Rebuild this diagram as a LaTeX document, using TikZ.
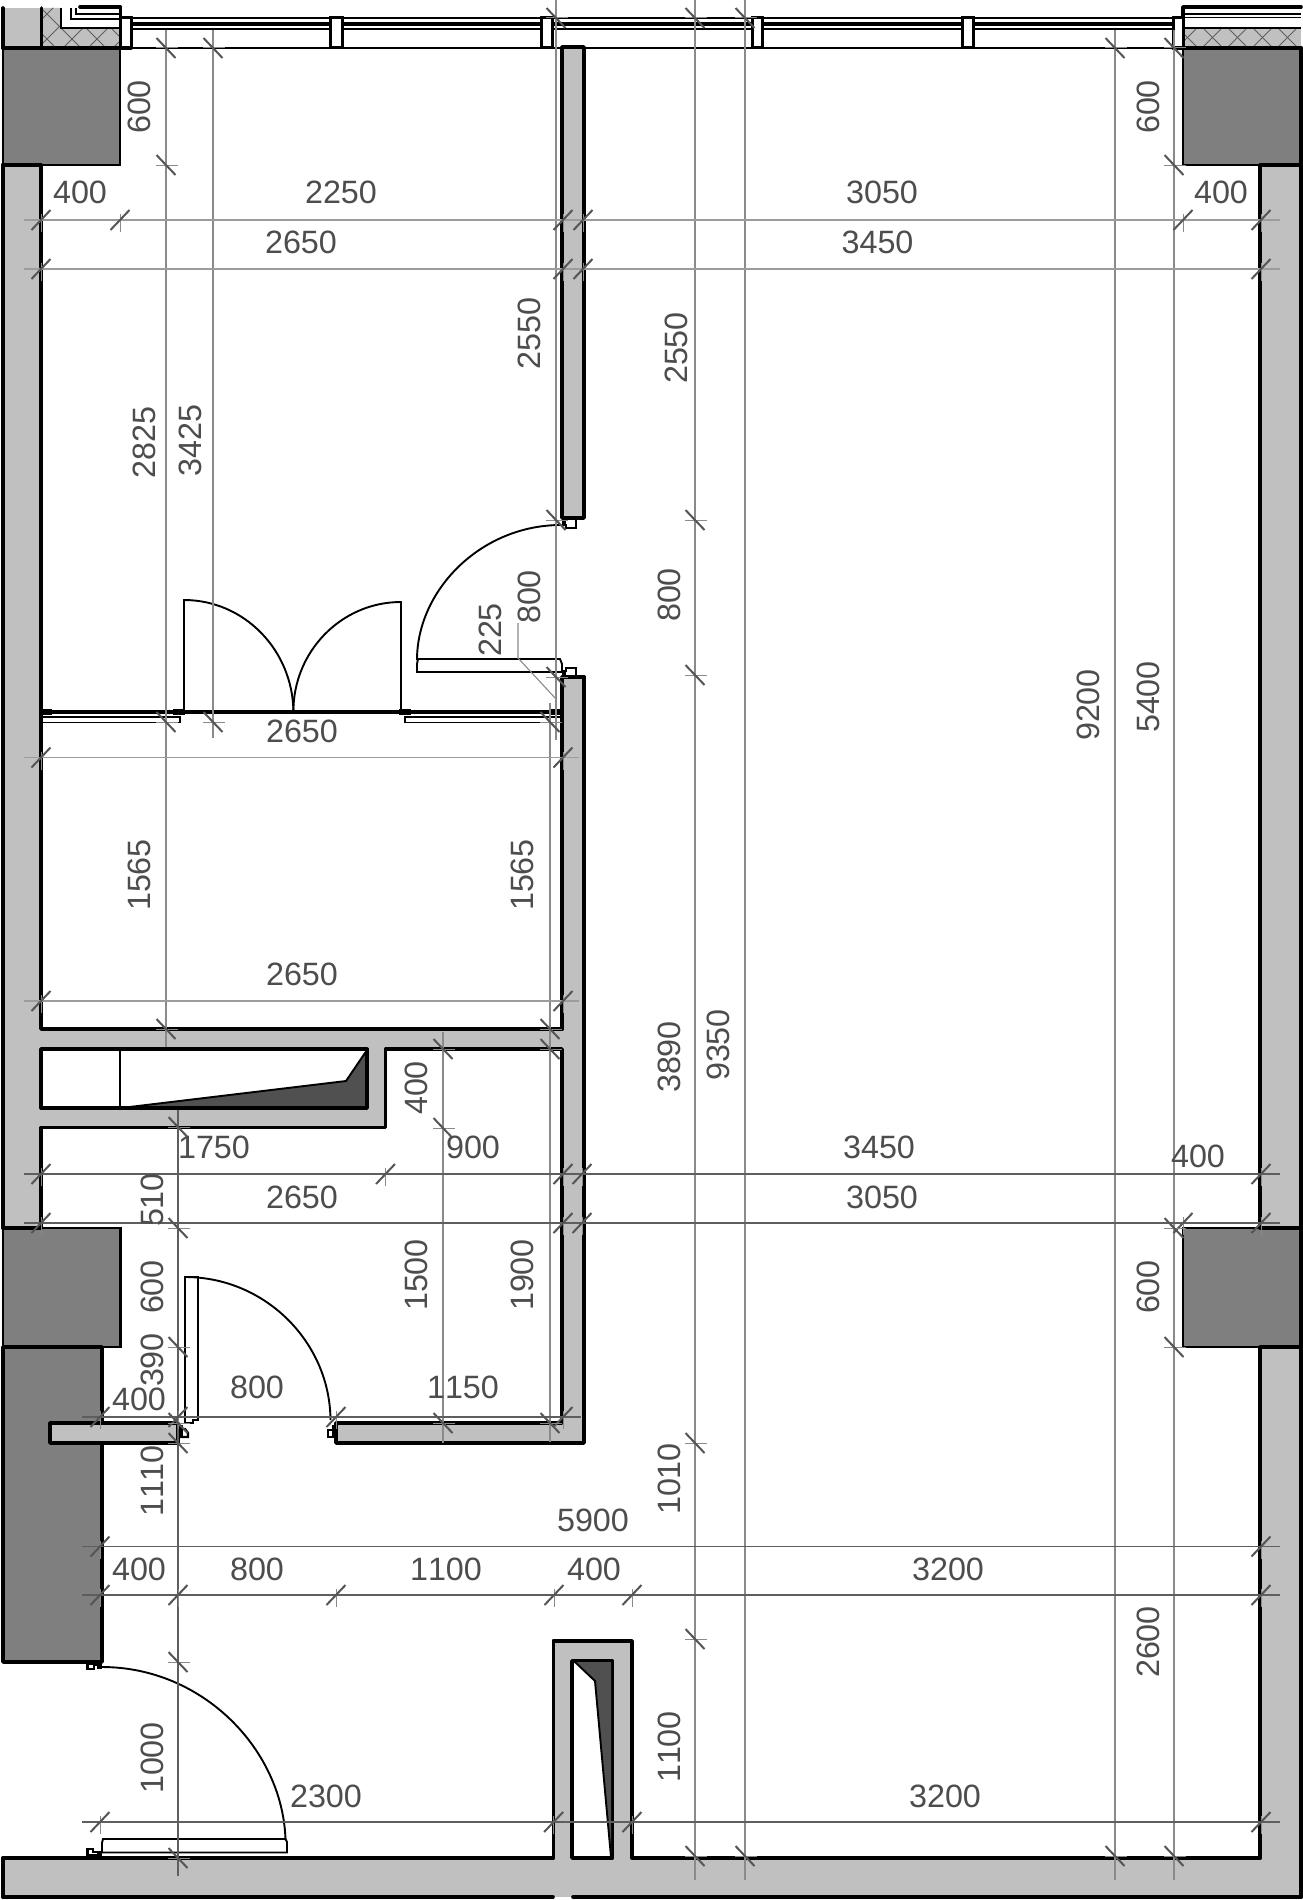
\documentclass[tikz,border=0pt]{standalone}
\usepackage{fontspec}
\setmainfont[Kerning=Off]{Liberation Sans}
\definecolor{wallgrey}{HTML}{C0C0C0}
\definecolor{coregrey}{HTML}{7F7F7F}
\definecolor{shaftdark}{HTML}{505050}
\definecolor{dimtext}{HTML}{4D4D4D}
\definecolor{dimthin}{HTML}{8A8A8A}
\definecolor{dimwide}{HTML}{9C9C9C}
\definecolor{dimdark}{HTML}{5E5E5E}
\definecolor{slashgrey}{HTML}{555555}
\newcommand{\hdimtick}[2]{%
  \draw[extstub] (#1,{#2-6})--(#1,{#2+12});
  \draw[slash] ({#1-9.5},{#2+10})--({#1+9.5},{#2-10});}
\newcommand{\vdimtick}[2]{%
  \draw[extstub] ({#1-10},#2)--({#1+12},#2);
  \draw[slash] ({#1-9.5},{#2-10})--({#1+9.5},{#2+10});}
\tikzset{
  wall/.style={fill=wallgrey,draw=none},
  core/.style={fill=coregrey,draw=black,line width=2.2pt},
  heavy/.style={draw=black,line width=3.6pt,line cap=round,line join=round},
  medium/.style={draw=black,line width=2.4pt,line join=miter},
  light/.style={draw=black,line width=1.9pt,line join=miter},
  swing/.style={draw=black,line width=1.9pt},
  dimv/.style={draw=dimthin,line width=1.1pt},
  dimh/.style={draw=dimwide,line width=1.7pt},
  dimk/.style={draw=dimdark,line width=1.1pt},
  slash/.style={draw=slashgrey,line width=2pt},
  extstub/.style={draw=dimthin,line width=1pt},
  lab/.style={inner sep=0pt,text=dimtext,font=\fontsize{32.3}{36}\selectfont},
  labv/.style={lab,rotate=90}
}
\begin{document}
\begin{tikzpicture}[x=1pt,y=-1pt]
\useasboundingbox (0,0) rectangle (1303,1900);
\fill[white] (0,0) rectangle (1303,1900);

% --- wall fills
\fill[wall] (3,8) rectangle (41,48);
\fill[wall] (3,165) rectangle (41,1228);
\fill[wall] (1260,165) rectangle (1301,1897);
\fill[wall] (3,1858) rectangle (1301,1897);
\fill[wall] (41,1029) rectangle (584,1049);
\fill[wall] (41,1108) rectangle (385.5,1127.5);
\fill[wall] (367,1049) rectangle (385.5,1127.5);
\fill[wall] (562,47) rectangle (584,518);
\fill[wall] (562,677) rectangle (584,1443);
\fill[wall] (336,1423) rectangle (584,1443);

% --- hatched blocks
\fill[wall] (41,8)--(61,8)--(61,28)--(120,28)--(120,48)--(41,48)--cycle;
\fill[wall] (1183,28) rectangle (1301,48);
\begin{scope}
  \clip (41,8)--(61,8)--(61,28)--(120,28)--(120,47)--(41,47)--cycle;
  \foreach \k in {-2,...,6}{
    \draw[dimdark,line width=1pt] ({33+25*\k},0)--({33+25*\k+50},50);
    \draw[dimdark,line width=1pt] ({61+25*\k},50)--({61+25*\k+50},0);}
\end{scope}
\begin{scope}
  \clip (1183,28) rectangle (1301,47);
  \foreach \k in {-1,...,6}{
    \draw[dimdark,line width=1pt] ({1175+25*\k},0)--({1175+25*\k+50},50);
    \draw[dimdark,line width=1pt] ({1175+25*\k},50)--({1175+25*\k+50},0);}
\end{scope}
\draw[light] (61,8)--(61,28)--(120,28);
\draw[light] (71,8)--(71,19)--(120,19);
\draw[light] (76,8)--(76,14)--(120,14);
\draw[heavy] (80,7)--(120.5,7)--(120.5,48);
\draw[heavy] (3,8)--(3,48);
\draw[heavy] (41.5,8)--(41.5,48);
\draw[heavy] (1183,48)--(1183,7)--(1301,7);
\draw[light] (1183,14)--(1301,14);
\draw[light] (1183,17.5)--(1301,17.5);
\draw[light] (1183,28)--(1301,28);

% --- window wall
\draw[medium] (131,18)--(1173,18);
\draw[light]  (131,23)--(1173,23);
\draw[light]  (131,25)--(1173,25);
\draw[medium] (131,29)--(1173,29);
\draw[medium] (105,48)--(1183,48);
\foreach \a/\b in {120.5/131,330/342,541/552,752/762,962/973,1173/1183}{
  \draw[line width=3pt,fill=white] (\a,18) rectangle (\b,48);}

% --- outer and inner wall lines
\draw[heavy] (3,165)--(41,165)--(41,1029)--(562,1029);
\draw[heavy] (3,165)--(3,1228);
\draw[heavy] (1301,165)--(1260,165)--(1260,1228)--(1301,1228);
\draw[heavy] (1301,1347)--(1260,1347)--(1260,1858);
\draw[heavy] (1301,165)--(1301,1897);
\draw[heavy] (562,518)--(562,47)--(584,47)--(584,518)--cycle;
\draw[heavy] (584,677)--(584,1443)--(336,1443)--(336,1423)--(562,1423)--(562,1049)--(385.5,1049)--(385.5,1127.5)--(41,1127.5)--(41,1228);
\draw[heavy] (562,1029)--(562,677)--(584,677);
\draw[heavy] (3,1897)--(553,1897);
\draw[heavy] (573,1897)--(1301,1897);
\draw[heavy] (3,1858)--(3,1897);
\draw[heavy] (3,1858)--(553.6,1858)--(553.6,1641)--(632,1641)--(632,1858)--(1260,1858);

% --- concrete cores
\draw[core] (3,48) rectangle (120,165);
\draw[core] (1183,48) rectangle (1301,165);
\draw[core] (3,1228) rectangle (120.5,1347);
\draw[core] (1183,1228) rectangle (1301,1347);
\draw[heavy,fill=coregrey] (3,1347) rectangle (102,1662);
\draw[heavy] (3,48)--(131,48);
\draw[heavy] (1173,48)--(1301,48);
\draw[heavy] (3,165)--(41,165);
\draw[heavy] (1260,165)--(1301,165);
\draw[heavy] (3,1228)--(41,1228);
\draw[heavy] (1260,1228)--(1301,1228);
\draw[heavy] (1260,1347)--(1301,1347);
\draw[heavy] (1301,48)--(1301,165);
\draw[heavy] (1301,1228)--(1301,1347);

% --- upper shaft
\draw[heavy,fill=white] (41,1049) rectangle (367,1108);
\fill[shaftdark] (121,1108)--(346,1081)--(367,1050)--(367,1108)--cycle;
\draw[heavy] (367,1049)--(367,1108)--(41,1108);
\draw[medium] (120,1049)--(120,1108);
\draw[light] (121,1108)--(346,1081)--(367,1050);

% --- lower shaft
\fill[wall] (555,1642) rectangle (631,1858);
\draw[heavy] (553.6,1858)--(553.6,1641)--(632,1641)--(632,1858);
\draw[heavy,fill=white] (572,1858)--(572,1661)--(612.5,1661)--(612.5,1858)--cycle;
\fill[shaftdark] (575,1662)--(595,1681)--(611,1857)--(611,1662)--cycle;
\draw[light] (575,1662)--(595,1681)--(611,1857);

% --- stub wall across the tall core
\draw[heavy,fill=wallgrey] (50,1423) rectangle (178,1443);

% --- office glazing and double door
\draw[line width=3.4pt] (41,712)--(179,712);
\draw[line width=3.4pt] (184,712)--(401,712);
\draw[line width=3.4pt] (405,712)--(562,712);
\fill (41,709) rectangle (52,715);
\fill (173,709) rectangle (185,715);
\fill (399,709) rectangle (411,715);
\fill (550,709) rectangle (562,715);
\draw[light] (41,717)--(180,717)--(180,722.5)--(41,722.5);
\draw[light] (562,717)--(405,717)--(405,722.5)--(562,722.5);
\draw[swing] (184,712)--(184,600) .. controls (244,600) and (293,650) .. (293.4,712);
\draw[swing] (401,712)--(401,602) .. controls (341,602) and (293,652) .. (293.4,712);

% --- door in the upper partition
\draw[light] (417,672)--(417,664)--(418,659)--(560,659)--(562,664)--(562,672)--cycle;
\draw[swing] (417,660) .. controls (417,590) and (481,525) .. (561,525);
\fill (562,518) rectangle (566,526);
\draw[medium] (562,525)--(566,525)--(566,528)--(576,528)--(576,519);
\fill (562,671) rectangle (566,677);
\draw[medium] (562,671)--(566,671)--(566,668)--(576,668)--(576,676);

% --- door at the service room
\draw[light] (185,1423)--(185,1277)--(198,1277)--(198,1420)--(193,1420)--(193,1423)--cycle;
\draw[swing] (185,1277) .. controls (265,1277) and (330,1342) .. (330.5,1420);
\fill (179,1425) rectangle (183,1436);
\draw[medium] (180,1429)--(185,1429)--(188,1433)--(188,1437)--(180,1437);
\fill (332,1425) rectangle (336,1437);
\draw[medium] (336,1437)--(328,1437)--(328,1430)--(333,1430)--(333,1425);

% --- entrance door
\draw[light] (102,1852.5)--(287,1852.5)--(287,1842)--(285.5,1839)--(103,1839)--(102,1843)--cycle;
\draw[swing] (102,1667) .. controls (203,1667) and (283,1750) .. (285.5,1840);
\fill (97,1662) rectangle (102,1669);
\draw[medium] (97,1665)--(94,1665)--(94,1669)--(87.5,1669)--(87.5,1664)--(93,1664);
\fill (97,1851) rectangle (102,1858);
\draw[medium] (97,1855)--(87.5,1855)--(87.5,1849)--(93,1849)--(93,1852)--(97,1852);

% --- vertical dimension lines
\draw[dimv] (166,30)--(166,1047);
\draw[dimv] (213,30)--(213,738);
\draw[dimv] (556,0)--(556,740);
\draw[dimv] (550,703)--(550,1442);
\draw[dimv] (443,1032)--(443,1443);
\draw[dimk] (178,1110)--(178,1876);
\draw[dimv] (695,0)--(695,1880);
\draw[dimv] (745,0)--(745,1880);
\draw[dimv] (1115,30)--(1115,1880);
\draw[dimv] (1174,30)--(1174,1880);
\draw[dimv] (518,623)--(518,658)--(556,699);

% --- horizontal dimension lines
\draw[dimh] (24,220)--(1280,220);
\draw[dimh] (24,269)--(1280,269);
\draw[dimh] (24,757.5)--(579,757.5);
\draw[dimh] (24,1001)--(579,1001);
\draw[dimk] (24,1174)--(1280,1174);
\draw[dimk] (24,1223)--(1280,1223);
\draw[dimk] (82,1417)--(581,1417);
\draw[dimk] (82,1546.5)--(1280,1546.5);
\draw[dimk] (82,1595)--(1280,1595);
\draw[dimk] (82,1822)--(1280,1822);

% --- ticks on horizontal dimensions
\foreach \px in {41,120,563,583,1183,1261}{\hdimtick{\px}{220}}
\foreach \px in {41,563,583,1261}{\hdimtick{\px}{269}}
\foreach \px in {41,563}{\hdimtick{\px}{757.5}}
\foreach \px in {41,563}{\hdimtick{\px}{1001}}
\foreach \px in {41,385.5,563,582,1261}{\hdimtick{\px}{1174}}
\foreach \px in {41,563,582,1183,1261}{\hdimtick{\px}{1223}}
\foreach \px in {100,178,336,563}{\hdimtick{\px}{1417}}
\foreach \px in {100,1261}{\hdimtick{\px}{1546.5}}
\foreach \px in {100,178,336,554,632,1261}{\hdimtick{\px}{1595}}
\foreach \px in {100,553.6,632,1261}{\hdimtick{\px}{1822}}

% --- ticks on vertical dimensions
\foreach \py in {48,165,722,1029}{\vdimtick{166}{\py}}
\foreach \py in {48,722}{\vdimtick{213}{\py}}
\foreach \py in {18,520,677}{\vdimtick{556}{\py}}
\foreach \py in {722,1029,1049,1423}{\vdimtick{550}{\py}}
\foreach \py in {1049,1128,1423}{\vdimtick{443}{\py}}
\foreach \py in {1127,1228,1347,1423,1443,1662,1858}{\vdimtick{178}{\py}}
\foreach \py in {18,520,675,1443,1639,1856}{\vdimtick{695}{\py}}
\foreach \py in {18,1856}{\vdimtick{745}{\py}}
\foreach \py in {48,1856}{\vdimtick{1115}{\py}}
\foreach \py in {48,165,1228,1347,1856}{\vdimtick{1174}{\py}}

% --- horizontal labels
\node[lab] (l01) at (80,192.5) {400};
\node[lab] (l02) at (341,192.5) {2250};
\node[lab] (l03) at (882,192.5) {3050};
\node[lab] (l04) at (1221,192.5) {400};
\node[lab] (l05) at (301,242) {2650};
\node[lab] (l06) at (877.5,242) {3450};
\node[lab] (l07) at (302,731.5) {2650};
\node[lab] (l08) at (302,974) {2650};
\node[lab] (l09) at (214,1147) {1750};
\node[lab] (l10) at (473,1147) {900};
\node[lab] (l11) at (879,1147) {3450};
\node[lab] (l12) at (1198,1156) {400};
\node[lab] (l13) at (302,1197) {2650};
\node[lab] (l14) at (882,1197) {3050};
\node[lab] (l15) at (139,1399) {400};
\node[lab] (l16) at (257,1387) {800};
\node[lab] (l17) at (463,1387) {1150};
\node[lab] (l18) at (593,1520) {5900};
\node[lab] (l19) at (139,1569) {400};
\node[lab] (l20) at (257,1569) {800};
\node[lab] (l21) at (446,1569) {1100};
\node[lab] (l22) at (594,1569) {400};
\node[lab] (l23) at (948,1569) {3200};
\node[lab] (l24) at (326,1796) {2300};
\node[lab] (l25) at (945,1796) {3200};

% --- vertical labels
\node[labv] (v01) at (139.5,107) {600};
\node[labv] (v02) at (1148.5,107) {600};
\node[labv] (v03) at (144.5,442.5) {2825};
\node[labv] (v04) at (190.5,440.5) {3425};
\node[labv] (v05) at (529,333.5) {2550};
\node[labv] (v06) at (676.5,348) {2550};
\node[labv] (v07) at (529.5,597) {800};
\node[labv] (v08) at (490.5,630) {225};
\node[labv] (v09) at (669.5,595) {800};
\node[labv] (v10) at (139.5,875) {1565};
\node[labv] (v11) at (522.5,875) {1565};
\node[labv] (v12) at (1088.5,705) {9200};
\node[labv] (v13) at (1148.5,697) {5400};
\node[labv] (v14) at (416.5,1088) {400};
\node[labv] (v15) at (669.5,1057) {3890};
\node[labv] (v16) at (718.5,1045) {9350};
\node[labv] (v17) at (152.5,1200) {510};
\node[labv] (v18) at (152.5,1287) {600};
\node[labv] (v19) at (1148.5,1287) {600};
\node[labv] (v20) at (416.5,1275) {1500};
\node[labv] (v21) at (522.5,1275) {1900};
\node[labv] (v22) at (152.5,1360) {390};
\node[labv] (v23) at (152.5,1481) {1110};
\node[labv] (v24) at (669.5,1479) {1010};
\node[labv] (v25) at (1148.5,1642) {2600};
\node[labv] (v26) at (669.5,1747) {1100};
\node[labv] (v27) at (152.5,1758) {1000};
\end{tikzpicture}
\end{document}
